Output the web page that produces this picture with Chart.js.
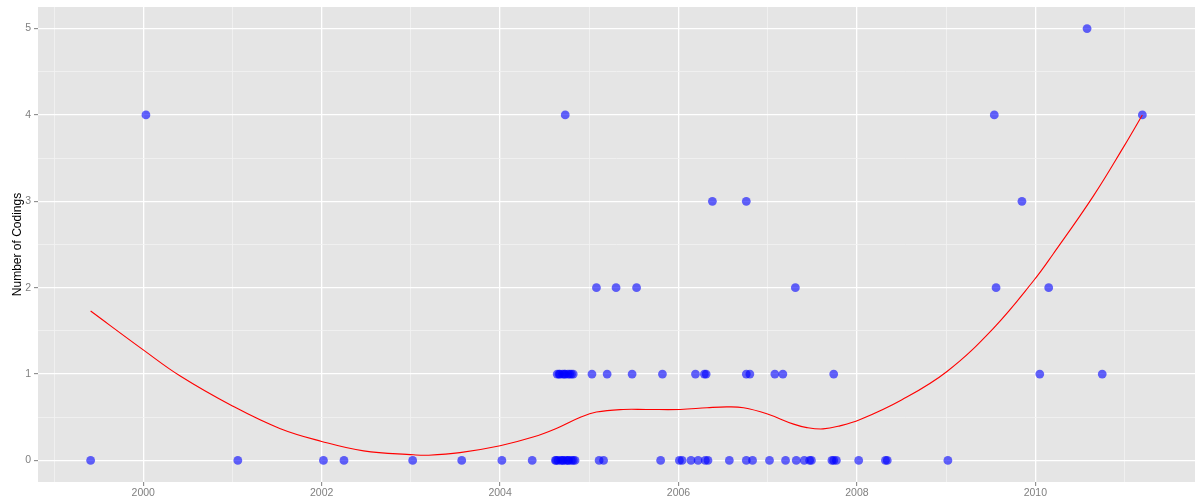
<!DOCTYPE html>
<html>
<head>
<meta charset="utf-8">
<title>Number of Codings by Year</title>
<script src="https://cdn.jsdelivr.net/npm/chart.js@4.4.1/dist/chart.umd.min.js"></script>
<style>
  html, body { margin: 0; padding: 0; background: #ffffff; }
  #wrap { width: 1195px; height: 502px; }
</style>
</head>
<body>
<div id="wrap"><canvas id="chart" width="1195" height="502"></canvas></div>
<script>
// Observation dates (decimal years), grouped by number of codings
const zeroCodingYears = [1999.41, 2001.06, 2002.02, 2002.25, 2003.02, 2003.57, 2004.02, 2004.36,
  2004.62, 2004.63, 2004.65, 2004.68, 2004.70, 2004.71, 2004.74, 2004.76, 2004.77, 2004.80, 2004.82, 2004.84,
  2005.11, 2005.16, 2005.80, 2006.01, 2006.04, 2006.14, 2006.22, 2006.30, 2006.33, 2006.57,
  2006.76, 2006.83, 2007.02, 2007.20, 2007.32, 2007.41, 2007.47, 2007.49, 2007.72, 2007.74,
  2007.77, 2008.02, 2008.32, 2008.34, 2009.02];
const oneCodingYears = [2004.64, 2004.66, 2004.67, 2004.70, 2004.72, 2004.73, 2004.76, 2004.78, 2004.80, 2004.82,
  2005.03, 2005.20, 2005.48, 2005.82, 2006.19, 2006.29, 2006.31, 2006.76, 2006.80, 2007.08,
  2007.17, 2007.74, 2010.05, 2010.75];
const twoCodingYears = [2005.08, 2005.30, 2005.53, 2007.31, 2009.56, 2010.15];
const threeCodingYears = [2006.38, 2006.76, 2009.85];
const fourCodingYears = [2000.03, 2004.73, 2009.54, 2011.20];
const fiveCodingYears = [2010.58];

// Smoothed trend (loess) through the observations
const trendYears = [1999.41, 2000.00, 2000.41, 2001.00, 2001.53, 2002.00, 2002.47, 2003.03, 2003.20, 2003.55,
  2004.00, 2004.37, 2004.63, 2004.90, 2005.08, 2005.38, 2005.64, 2006.02, 2006.32, 2006.54,
  2006.73, 2006.99, 2007.29, 2007.44, 2007.62, 2007.81, 2008.03, 2008.50, 2009.01, 2009.53,
  2009.98, 2010.20, 2010.65, 2010.99, 2011.20];
const trendValues = [1.73, 1.28, 0.98, 0.63, 0.37, 0.22, 0.11, 0.065, 0.06, 0.09,
  0.17, 0.27, 0.37, 0.50, 0.56, 0.59, 0.59, 0.59, 0.61, 0.62,
  0.61, 0.54, 0.42, 0.38, 0.365, 0.40, 0.47, 0.70, 1.03, 1.53,
  2.08, 2.39, 3.06, 3.63, 4.00];

// Axis ticks
const xLabelYears = [2000, 2002, 2004, 2006, 2008, 2010];
const xMinorYears = [1999, 2001, 2003, 2005, 2007, 2009, 2011];
const yLabelValues = [0, 1, 2, 3, 4, 5];
const yMinorValues = [0.5, 1.5, 2.5, 3.5, 4.5];

const codingGroups = [zeroCodingYears, oneCodingYears, twoCodingYears, threeCodingYears, fourCodingYears, fiveCodingYears];
const codingPoints = [];
codingGroups.forEach((years, count) => years.forEach(yr => codingPoints.push({ x: yr, y: count })));
const trendPoints = trendYears.map((yr, i) => ({ x: yr, y: trendValues[i] }));

const FONT = "'Liberation Sans', Arial, Helvetica, sans-serif";
const TICK_GREY = '#7F7F7F';

const panelBackground = {
  id: 'panelBackground',
  beforeDraw(chart) {
    const { ctx, chartArea: a } = chart;
    ctx.save();
    ctx.fillStyle = '#ffffff';
    ctx.fillRect(0, 0, chart.width, chart.height);
    ctx.fillStyle = '#E5E5E5';
    ctx.fillRect(a.left, a.top, a.right - a.left, a.bottom - a.top);
    ctx.restore();
  }
};

function gridStyle(labelSet) {
  const isMajor = c => c.tick && labelSet.includes(c.tick.value);
  return {
    color: c => isMajor(c) ? '#FFFFFF' : '#F2F2F2',
    lineWidth: c => isMajor(c) ? 1.3 : 0.8,
    tickColor: c => isMajor(c) ? TICK_GREY : 'rgba(0,0,0,0)',
    tickWidth: 1,
    tickLength: 4,
    drawTicks: true
  };
}

function noScalePadding(s) {
  s.paddingLeft = 0;
  s.paddingRight = 0;
  s.paddingTop = 0;
  s.paddingBottom = 0;
}

new Chart(document.getElementById('chart'), {
  type: 'scatter',
  data: {
    datasets: [
      {
        type: 'line',
        data: trendPoints,
        borderColor: '#FF0000',
        borderWidth: 1.1,
        pointRadius: 0,
        fill: false,
        tension: 0.4,
        order: 0
      },
      {
        data: codingPoints,
        backgroundColor: 'rgba(0,0,255,0.6)',
        borderWidth: 0,
        pointRadius: 4.4,
        pointHoverRadius: 4.4,
        order: 1
      }
    ]
  },
  options: {
    responsive: false,
    animation: false,
    devicePixelRatio: 1,
    events: [],
    layout: { autoPadding: false, padding: { top: 7, left: 0, right: 0, bottom: 0 } },
    plugins: { legend: { display: false }, tooltip: { enabled: false } },
    scales: {
      x: {
        type: 'linear',
        min: 1998.82,
        max: 2011.79,
        afterBuildTicks: s => {
          s.ticks = xLabelYears.concat(xMinorYears).sort((a, b) => a - b).map(v => ({ value: v }));
        },
        afterFit: s => { s.height = 20; noScalePadding(s); },
        border: { display: false },
        grid: gridStyle(xLabelYears),
        ticks: {
          autoSkip: false,
          maxRotation: 0,
          padding: 1,
          color: TICK_GREY,
          font: { family: FONT, size: 10.5 },
          callback: v => xLabelYears.includes(v) ? String(v) : ''
        }
      },
      y: {
        type: 'linear',
        min: -0.25,
        max: 5.25,
        afterBuildTicks: s => {
          s.ticks = yLabelValues.concat(yMinorValues).sort((a, b) => a - b).map(v => ({ value: v }));
        },
        afterFit: s => { s.width = 38; noScalePadding(s); },
        border: { display: false },
        grid: gridStyle(yLabelValues),
        title: {
          display: true,
          text: 'Number of Codings',
          color: '#000000',
          font: { family: FONT, size: 12 },
          padding: { top: 10, bottom: 0 }
        },
        ticks: {
          autoSkip: false,
          padding: 3,
          color: TICK_GREY,
          font: { family: FONT, size: 10.5 },
          callback: v => yLabelValues.includes(v) ? String(v) : ''
        }
      }
    }
  },
  plugins: [panelBackground]
});
</script>
</body>
</html>
